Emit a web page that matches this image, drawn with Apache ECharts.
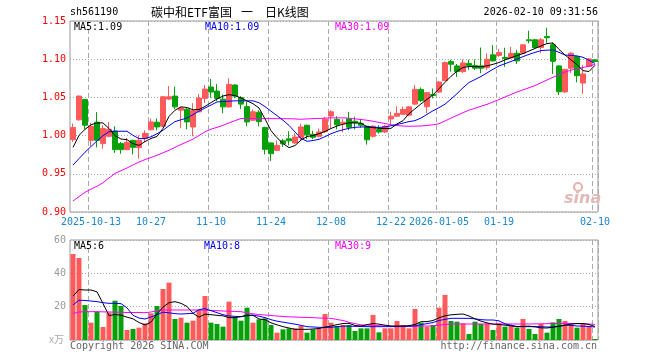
<!DOCTYPE html>
<html><head><meta charset="utf-8">
<script src="https://cdn.jsdelivr.net/npm/echarts@6/dist/echarts.min.js"></script>
<style>html,body{margin:0;padding:0;background:#fff}#c{width:660px;height:360px}</style>
</head><body><div id="c"></div>
<script>
const dates = ['2025-09-30','2025-10-09','2025-10-10','2025-10-13','2025-10-14','2025-10-15','2025-10-16','2025-10-17','2025-10-20','2025-10-21','2025-10-22','2025-10-23','2025-10-24','2025-10-27','2025-10-28','2025-10-29','2025-10-30','2025-10-31','2025-11-03','2025-11-04','2025-11-05','2025-11-06','2025-11-07','2025-11-10','2025-11-11','2025-11-12','2025-11-13','2025-11-14','2025-11-17','2025-11-18','2025-11-19','2025-11-20','2025-11-21','2025-11-24','2025-11-25','2025-11-26','2025-11-27','2025-11-28','2025-12-01','2025-12-02','2025-12-03','2025-12-04','2025-12-05','2025-12-08','2025-12-09','2025-12-10','2025-12-11','2025-12-12','2025-12-15','2025-12-16','2025-12-17','2025-12-18','2025-12-19','2025-12-22','2025-12-23','2025-12-24','2025-12-25','2025-12-26','2025-12-29','2025-12-30','2025-12-31','2026-01-05','2026-01-06','2026-01-07','2026-01-08','2026-01-09','2026-01-12','2026-01-13','2026-01-14','2026-01-15','2026-01-16','2026-01-19','2026-01-20','2026-01-21','2026-01-22','2026-01-23','2026-01-26','2026-01-27','2026-01-28','2026-01-29','2026-01-30','2026-02-02','2026-02-03','2026-02-04','2026-02-05','2026-02-06','2026-02-09','2026-02-10'];

const tickDates = ['2025-10-13','2025-10-27','2025-11-10','2025-11-24','2025-12-08','2025-12-22','2026-01-05','2026-01-19','2026-02-10'];
const tickTexts = ['2025-10-13','10-27','11-10','11-24','12-08','12-22','2026-01-05','01-19','02-10'];
const priceTicks = [0.90, 0.95, 1.00, 1.05, 1.10, 1.15];
const volTicks = [0, 20, 40, 60];

const open = [0.9948,1.0206,1.0474,0.9938,1.0175,0.9895,0.9991,1.0060,0.9895,0.9816,
0.9938,0.9842,0.9960,1.0076,1.0175,1.0122,1.0478,1.0517,1.0333,1.0346,
1.0113,1.0311,1.0487,1.0636,1.0583,1.0477,1.0375,1.0662,1.0495,1.0379,
1.0201,1.0306,1.0105,0.9904,0.9807,0.9932,0.9958,0.9904,0.9970,1.0136,
1.0017,0.9991,1.0051,1.0255,1.0212,1.0155,1.0220,1.0188,1.0161,1.0122,
0.9991,1.0079,1.0047,1.0218,1.0254,1.0280,1.0267,1.0412,1.0605,1.0378,
1.0539,1.0570,1.0720,1.0971,1.0912,1.0837,1.0945,1.0916,1.0912,1.0889,
1.1057,1.1050,1.1024,1.1016,1.1079,1.1079,1.1254,1.1254,1.1153,1.1297,
1.1190,1.0912,1.0572,1.0882,1.1035,1.0688,1.0905,1.0991];
const close = [1.0105,1.0517,1.0136,1.0122,0.9938,1.0092,1.0083,0.9816,0.9816,0.9912,
0.9846,0.9938,1.0030,1.0179,1.0113,1.0508,1.0508,1.0376,1.0360,1.0179,
1.0326,1.0491,1.0609,1.0570,1.0487,1.0376,1.0671,1.0517,1.0412,1.0179,
1.0311,1.0182,0.9820,0.9763,0.9872,0.9892,0.9932,0.9981,1.0113,1.0010,
0.9978,1.0047,1.0215,1.0311,1.0142,1.0175,1.0109,1.0168,1.0135,0.9945,
1.0122,1.0047,1.0122,1.0254,1.0290,1.0342,1.0376,1.0605,1.0458,1.0562,
1.0526,1.0701,1.0955,1.0934,1.0837,1.0951,1.0916,1.0882,1.0882,1.1000,
1.0978,1.1087,1.1008,1.1076,1.0978,1.1188,1.1241,1.1153,1.1254,1.1280,
1.0973,1.0574,1.0868,1.1079,1.0784,1.0807,1.1004,1.0971];
const high = [1.0158,1.0526,1.0480,1.0166,1.0307,1.0136,1.0179,1.0122,0.9916,0.9971,
0.9944,1.0004,1.0070,1.0224,1.0224,1.0517,1.0649,1.0640,1.0380,1.0366,
1.0425,1.0543,1.0662,1.0741,1.0675,1.0537,1.0750,1.0668,1.0517,1.0445,
1.0342,1.0333,1.0116,0.9908,0.9938,0.9958,1.0057,1.0030,1.0155,1.0142,
1.0063,1.0092,1.0245,1.0333,1.0254,1.0214,1.0311,1.0247,1.0219,1.0128,
1.0136,1.0136,1.0136,1.0311,1.0386,1.0380,1.0386,1.0662,1.0630,1.0570,
1.0616,1.0714,1.0971,1.0993,1.0938,1.0997,1.0993,1.0997,1.1153,1.1076,
1.1184,1.1132,1.1150,1.1162,1.1122,1.1197,1.1372,1.1267,1.1276,1.1412,
1.1214,1.0925,1.0872,1.1090,1.1043,1.0925,1.1017,1.1004];
const low = [0.9916,1.0199,1.0080,0.9863,0.9846,0.9829,0.9978,0.9774,0.9762,0.9807,
0.9754,0.9697,0.9916,1.0070,1.0070,1.0113,1.0464,1.0346,1.0096,1.0083,
0.9991,1.0303,1.0425,1.0497,1.0451,1.0293,1.0366,1.0490,1.0346,1.0122,
1.0194,1.0122,0.9754,0.9668,0.9800,0.9853,0.9872,0.9889,0.9938,0.9951,
0.9951,0.9978,1.0034,1.0096,1.0083,1.0043,1.0070,1.0083,1.0103,0.9882,
0.9974,1.0026,1.0033,1.0149,1.0245,1.0267,1.0254,1.0399,1.0438,1.0293,
1.0487,1.0557,1.0714,1.0837,1.0767,1.0820,1.0862,1.0859,1.0816,1.0859,
1.0971,1.1030,1.0899,1.1003,1.0938,1.1066,1.1208,1.1136,1.1079,1.1214,
1.0807,1.0530,1.0557,1.0820,1.0697,1.0543,1.0899,1.0964];

const ma5 = [0.9846,1.0003,1.0082,1.0142,1.0166,1.0166,1.0093,1.0000,0.9955,0.9947,
0.9895,0.9872,0.9921,0.9963,0.9989,1.0095,1.0251,1.0332,1.0376,1.0368,
1.0338,1.0342,1.0382,1.0432,1.0479,1.0518,1.0536,1.0523,1.0493,1.0454,
1.0418,1.0362,1.0218,1.0065,0.9972,0.9896,0.9842,0.9870,0.9942,0.9988,
1.0001,1.0025,1.0054,1.0093,1.0125,1.0149,1.0166,1.0166,1.0163,1.0116,
1.0104,1.0095,1.0092,1.0095,1.0154,1.0195,1.0287,1.0351,1.0415,1.0474,
1.0533,1.0614,1.0697,1.0776,1.0842,1.0893,1.0903,1.0903,1.0903,1.0913,
1.0933,1.0957,1.0991,1.1020,1.1047,1.1074,1.1107,1.1141,1.1174,1.1205,
1.1213,1.1129,1.1055,1.0991,1.0929,1.0850,1.0839,1.0920];
const ma10 = [0.9614,0.9699,0.9782,0.9858,0.9930,0.9999,1.0050,1.0057,1.0057,1.0057,
1.0003,0.9961,0.9961,0.9984,1.0024,1.0070,1.0129,1.0183,1.0207,1.0230,
1.0274,1.0320,1.0361,1.0400,1.0440,1.0446,1.0451,1.0455,1.0455,1.0455,
1.0455,1.0430,1.0379,1.0320,1.0261,1.0201,1.0134,1.0047,0.9964,0.9925,
0.9936,0.9951,0.9986,1.0024,1.0054,1.0076,1.0096,1.0108,1.0113,1.0113,
1.0111,1.0107,1.0114,1.0129,1.0145,1.0164,1.0183,1.0196,1.0230,1.0278,
1.0325,1.0366,1.0411,1.0479,1.0549,1.0626,1.0695,1.0734,1.0774,1.0821,
1.0868,1.0911,1.0941,1.0970,1.1001,1.1034,1.1063,1.1089,1.1113,1.1118,
1.1122,1.1089,1.1055,1.1050,1.1043,1.1025,1.0985,1.0945];
const ma30 = [0.9145,0.9201,0.9257,0.9301,0.9337,0.9383,0.9446,0.9505,0.9541,0.9576,
0.9616,0.9654,0.9686,0.9713,0.9743,0.9775,0.9808,0.9846,0.9883,0.9918,
0.9954,1.0001,1.0050,1.0084,1.0108,1.0134,1.0166,1.0196,1.0224,1.0224,
1.0224,1.0223,1.0223,1.0222,1.0222,1.0221,1.0221,1.0218,1.0214,1.0218,
1.0222,1.0225,1.0228,1.0232,1.0232,1.0232,1.0228,1.0218,1.0211,1.0201,
1.0188,1.0172,1.0158,1.0143,1.0132,1.0125,1.0122,1.0124,1.0126,1.0133,
1.0141,1.0155,1.0192,1.0229,1.0264,1.0300,1.0333,1.0358,1.0384,1.0409,
1.0441,1.0472,1.0505,1.0538,1.0571,1.0599,1.0626,1.0655,1.0691,1.0728,
1.0763,1.0797,1.0832,1.0857,1.0874,1.0891,1.0909,1.0932];

const vol = [51.6,49.2,21,10.4,17,7.8,16.4,23.6,20.4,6,
6.6,7.4,10,16,20.4,30.6,34.4,12.6,13.4,10.4,
11.6,18,26.4,10.4,9.6,8,23,14,11.6,19.4,
10.4,12.4,13,9,4.4,6.4,7,7,8.4,4.4,
6.4,7,15.6,10.4,8.4,9,9,5.4,7,7,
15,4.6,7,7,11.4,9,7,18.6,10.4,8,
9,19.4,27,11.4,11,10,3.6,11,9.6,10,
6,10,8,9,7.4,12.6,6.6,3.6,9.6,4.4,
10.6,12.6,11.4,9.6,7.4,10,8.4,0.6];
const vma5 = [26.3,30.3,30,30,28.9,21.9,14.6,15.3,14.9,13.7,
12.7,10.5,9,10.7,15.7,19.7,22.4,23,22,20.1,
16,13.7,15.5,15.2,14.8,14.5,13.4,13.4,14,15,
14.8,12.6,12.2,10.3,9.1,8,7.2,6.4,6.4,6.4,
6.6,6.9,7.7,8.4,9.2,9.9,10,8.7,8.4,9.2,
9.9,9.5,8.9,8.4,8.4,8.4,8.6,9.3,11,11,
11.7,13.3,14.5,15.1,15.4,15.6,14.4,12.7,11.3,10.3,
9.5,9.3,8.9,8.5,8,8.2,8.3,7.9,7.3,7.2,
7.7,8.2,8.9,9.6,9.9,9.9,9.3,8.1];
const vma10 = [21,23.9,23.7,23.4,23,22.4,22,22,21.8,19.3,
14.8,13.2,12.6,13.8,15.2,16.7,16.3,15.8,15.6,15.8,
16,18.2,18.8,17.6,16.4,15.2,14.4,14.2,14,14.5,
14.9,14.3,13.4,12.2,11.3,10.7,10.1,9.5,8.8,8,
7.8,7.6,7.6,7.6,8,8.3,8.3,8.2,8.1,8,
8,8,8,8,8.1,8.2,8.3,8.5,9.2,9.8,
10.5,11.7,12.4,13,13,13,13,12.7,12.2,12,
12,11.5,9.7,8.9,8,8,8,8,8,7.8,
7.8,8.2,8.9,8.8,8.4,8.3,8.1,7.8];
const vma30 = [15.9,16.8,17,17,17,16.9,16.8,16.7,16.6,16.5,
16.5,16.5,16.4,16.8,17.6,18,18,18,18,18,
18,18,17.9,17.7,17.6,17.4,17.3,17.1,17,16.3,
15.7,15.3,15,14.7,14.4,14.1,13.9,13.8,13.6,13.5,
13.4,13.2,13.1,13,12.3,11.7,10.6,9.8,9.1,8.9,
8.7,8.6,8.4,8.2,8,8.1,8.1,8.2,8.3,8.4,
8.5,8.9,9.3,9.6,9.6,9.6,9.6,9.6,9.6,9.6,
9.6,9.6,9.6,9.6,9.6,9.6,9.6,9.65,9.7,9.8,
9.9,9.95,9.95,9.9,9.8,9.7,9.6,9.4];

const priceLegend = ['MA5:1.09','MA10:1.09','MA30:1.09'];
const volLegend = ['MA5:6','MA10:8','MA30:9'];
const headerCode = 'sh561190';
const headerTitle = ['碳中和ETF富国', '一', '日K线图'];
const headerTime = '2026-02-10 09:31:56';

const MONO = '"DejaVu Sans Mono", "Liberation Mono", monospace';
const CJK = '"Noto Sans CJK SC", sans-serif';
const RED = '#ff5a5a', GREEN = '#08a008';
const LINE_COLORS = ['#000000', '#0000ff', '#ff00ff'];

const tickIdx = new Set(tickDates.map(d => dates.indexOf(d)));
const tickMap = {}; tickDates.forEach((d, i) => { tickMap[d] = tickTexts[i]; });
const isTick = (i) => tickIdx.has(i);

const candleData = dates.map((d, i) => [open[i], close[i], low[i], high[i]]);
const volData = vol.map((v, i) => ({ value: v, itemStyle: { color: close[i] >= open[i] ? RED : GREEN } }));

const chart = echarts.init(document.getElementById('c'), null, { renderer: 'canvas' });

function lineSeries(data, color, xi, yi) {
  return { type: 'line', data: data, xAxisIndex: xi, yAxisIndex: yi, showSymbol: false, symbol: 'none',
    lineStyle: { color: color, width: 1 }, itemStyle: { color: color }, z: 5, silent: true };
}
function txt(x, y, text, color, font, align) {
  return { type: 'text', x: x, y: y, silent: true, z: 100,
    style: { text: text, fill: color, font: font, align: align || 'left', verticalAlign: 'middle' } };
}

const option = {
  animation: false,
  backgroundColor: '#ffffff',
  grid: [
    { left: 70, right: 62, top: 21, height: 191, show: true, borderColor: '#999', borderWidth: 1 },
    { left: 70, right: 62, top: 240, height: 100, show: true, borderColor: '#999', borderWidth: 1 }
  ],
  xAxis: [
    { type: 'category', gridIndex: 0, data: dates, boundaryGap: true,
      axisLine: { show: false }, axisTick: { show: false },
      axisLabel: { interval: isTick, formatter: (v) => tickMap[v] || '', color: '#1a86d0',
        fontFamily: MONO, fontSize: 10, margin: 5 },
      splitLine: { show: true, interval: isTick, lineStyle: { color: '#aaa', width: 1, type: [5, 3] } } },
    { type: 'category', gridIndex: 1, data: dates, boundaryGap: true,
      axisLine: { show: false }, axisTick: { show: false }, axisLabel: { show: false },
      splitLine: { show: true, interval: isTick, lineStyle: { color: '#aaa', width: 1, type: [5, 3] } } }
  ],
  yAxis: [
    { type: 'value', gridIndex: 0, min: priceTicks[0], max: priceTicks[priceTicks.length - 1], interval: 0.05,
      axisLine: { show: false }, axisTick: { show: false },
      axisLabel: { color: '#ff0000', fontFamily: MONO, fontSize: 10, margin: 4, formatter: (v) => v.toFixed(2) },
      splitLine: { show: true, lineStyle: { color: '#aaa', width: 1, type: [1, 2] } } },
    { type: 'value', gridIndex: 1, min: volTicks[0], max: volTicks[volTicks.length - 1], interval: 20,
      axisLine: { show: false }, axisTick: { show: false },
      axisLabel: { color: '#999', fontFamily: MONO, fontSize: 10, margin: 4, formatter: (v) => v === 0 ? '' : String(v) },
      splitLine: { show: true, lineStyle: { color: '#aaa', width: 1, type: [1, 2] } } }
  ],
  series: [
    { type: 'candlestick', xAxisIndex: 0, yAxisIndex: 0, data: candleData, barWidth: 5,
      itemStyle: { color: RED, color0: GREEN, borderColor: RED, borderColor0: GREEN, borderWidth: 1 }, z: 3, silent: true },
    lineSeries(ma30, LINE_COLORS[2], 0, 0),
    lineSeries(ma10, LINE_COLORS[1], 0, 0),
    lineSeries(ma5, LINE_COLORS[0], 0, 0),
    { type: 'bar', xAxisIndex: 1, yAxisIndex: 1, data: volData, barWidth: 5, z: 3, silent: true },
    lineSeries(vma30, LINE_COLORS[2], 1, 1),
    lineSeries(vma10, LINE_COLORS[1], 1, 1),
    lineSeries(vma5, LINE_COLORS[0], 1, 1)
  ],
  graphic: [
    txt(70, 12, headerCode, '#000', '10px ' + MONO),
    txt(151, 12, headerTitle[0], '#000', '12px ' + CJK),
    txt(241, 12, headerTitle[1], '#000', '12px ' + CJK),
    txt(265, 12, headerTitle[2], '#000', '12px ' + CJK),
    txt(598, 12, headerTime, '#000', '10px ' + MONO, 'right'),
    txt(74, 27, priceLegend[0], LINE_COLORS[0], '10px ' + MONO),
    txt(205, 27, priceLegend[1], LINE_COLORS[1], '10px ' + MONO),
    txt(335, 27, priceLegend[2], LINE_COLORS[2], '10px ' + MONO),
    txt(74, 246, volLegend[0], LINE_COLORS[0], '10px ' + MONO),
    txt(204, 246, volLegend[1], LINE_COLORS[1], '10px ' + MONO),
    txt(335, 246, volLegend[2], LINE_COLORS[2], '10px ' + MONO),
    txt(49, 339, 'x万', '#aaa', '10px ' + CJK),
    txt(70, 346, 'Copyright 2026 SINA.COM', '#666', '10px ' + MONO),
    txt(597, 346, 'http://finance.sina.com.cn', '#666', '10px ' + MONO, 'right'),
    { type: 'circle', shape: { cx: 578, cy: 187, r: 4 }, style: { fill: 'none', stroke: '#eab0b0', lineWidth: 2 }, silent: true, z: 1 },
    txt(564, 199, 'sina', '#e2b8b8', 'italic bold 16px "DejaVu Sans", sans-serif')
  ]
};
chart.setOption(option);
</script>
</body></html>
